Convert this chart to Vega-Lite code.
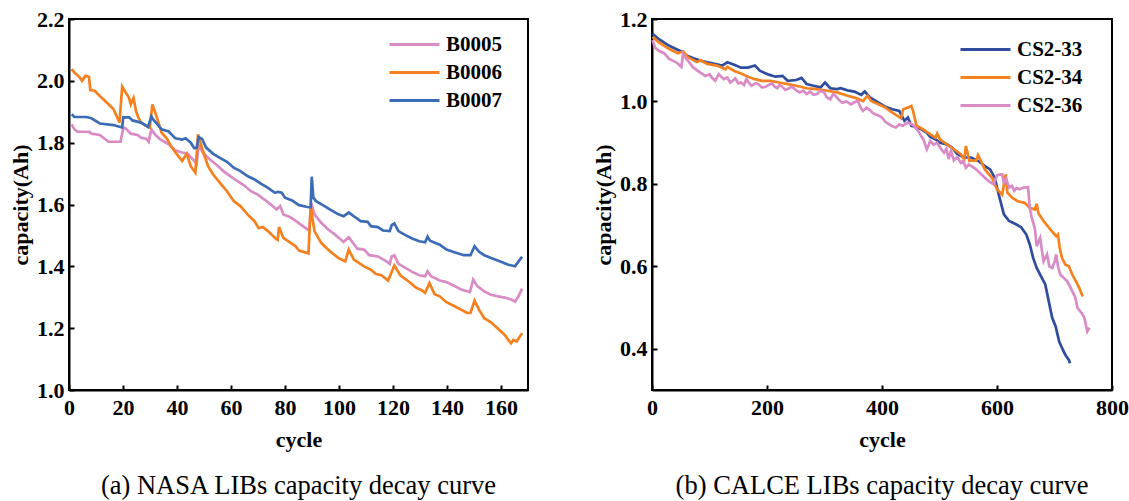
{
  "$schema": "https://vega.github.io/schema/vega-lite/v6.json",
  "background": "white",
  "padding": {"left": 8, "top": 7, "right": 0, "bottom": 0},
  "spacing": 62,
  "config": {
    "font": "Liberation Serif",
    "view": {"stroke": "black", "strokeWidth": 2},
    "axis": {"domainColor": "black", "domainWidth": 2, "tickColor": "black", "tickWidth": 2, "tickSize": -5, "labelFont": "Liberation Serif", "labelFontWeight": "bold", "labelFontSize": 22, "labelColor": "black", "labelPadding": 10, "titleFont": "Liberation Serif", "titleFontWeight": "bold", "titleFontSize": 22, "titleColor": "black", "grid": false, "labelFlush": false, "labelOverlap": false},
    "axisX": {"labelPadding": 12, "titlePadding": 11},
    "axisY": {"titlePadding": 4.5},
    "legend": {"orient": "none", "title": null, "symbolType": "M-4,0H4", "symbolSize": 156.25, "symbolStrokeWidth": 3, "labelFont": "Liberation Serif", "labelFontSize": 21, "labelFontWeight": "bold", "labelColor": "black", "rowPadding": 6, "labelOffset": 21, "padding": 0},
    "title": {"font": "Liberation Serif", "fontSize": 26.5, "fontWeight": "normal", "color": "black", "orient": "bottom", "anchor": "middle", "offset": 23}
  },
  "resolve": {"scale": {"color": "independent"}},
  "hconcat": [
    {
      "width": 459,
      "height": 371,
      "title": {"text": "(a) NASA LIBs capacity decay curve"},
      "data": {"values": [
        {"battery":"B0005","cycle":1,"capacity":1.859},{"battery":"B0005","cycle":2,"capacity":1.843},{"battery":"B0005","cycle":3.2,"capacity":1.836},{"battery":"B0005","cycle":7.6,"capacity":1.835},{"battery":"B0005","cycle":8.3,"capacity":1.829},{"battery":"B0005","cycle":11.4,"capacity":1.825},{"battery":"B0005","cycle":12.7,"capacity":1.816},{"battery":"B0005","cycle":14.6,"capacity":1.803},{"battery":"B0005","cycle":19.1,"capacity":1.803},{"battery":"B0005","cycle":20.1,"capacity":1.849},{"battery":"B0005","cycle":21,"capacity":1.846},{"battery":"B0005","cycle":22.9,"capacity":1.829},{"battery":"B0005","cycle":25.4,"capacity":1.825},{"battery":"B0005","cycle":26.7,"capacity":1.816},{"battery":"B0005","cycle":28.6,"capacity":1.813},{"battery":"B0005","cycle":29.5,"capacity":1.803},{"battery":"B0005","cycle":30.5,"capacity":1.843},{"battery":"B0005","cycle":31.8,"capacity":1.827},{"battery":"B0005","cycle":33.7,"capacity":1.811},{"battery":"B0005","cycle":36.9,"capacity":1.795},{"battery":"B0005","cycle":39.4,"capacity":1.775},{"battery":"B0005","cycle":41.9,"capacity":1.768},{"battery":"B0005","cycle":43.9,"capacity":1.764},{"battery":"B0005","cycle":46.4,"capacity":1.741},{"battery":"B0005","cycle":47.3,"capacity":1.732},{"battery":"B0005","cycle":48,"capacity":1.792},{"battery":"B0005","cycle":49.6,"capacity":1.768},{"battery":"B0005","cycle":52.1,"capacity":1.746},{"battery":"B0005","cycle":54.7,"capacity":1.728},{"battery":"B0005","cycle":57.2,"capacity":1.708},{"battery":"B0005","cycle":59.7,"capacity":1.692},{"battery":"B0005","cycle":62.3,"capacity":1.676},{"battery":"B0005","cycle":64.8,"capacity":1.662},{"battery":"B0005","cycle":67.4,"capacity":1.643},{"battery":"B0005","cycle":69.9,"capacity":1.632},{"battery":"B0005","cycle":72.4,"capacity":1.616},{"battery":"B0005","cycle":75,"capacity":1.598},{"battery":"B0005","cycle":76.9,"capacity":1.584},{"battery":"B0005","cycle":78.2,"capacity":1.595},{"battery":"B0005","cycle":79.4,"capacity":1.568},{"battery":"B0005","cycle":82,"capacity":1.559},{"battery":"B0005","cycle":84.5,"capacity":1.544},{"battery":"B0005","cycle":87.1,"capacity":1.527},{"battery":"B0005","cycle":89,"capacity":1.516},{"battery":"B0005","cycle":89.7,"capacity":1.605},{"battery":"B0005","cycle":90.9,"capacity":1.568},{"battery":"B0005","cycle":93.4,"capacity":1.541},{"battery":"B0005","cycle":96,"capacity":1.519},{"battery":"B0005","cycle":98.5,"capacity":1.503},{"battery":"B0005","cycle":101.7,"capacity":1.479},{"battery":"B0005","cycle":103.6,"capacity":1.494},{"battery":"B0005","cycle":106.8,"capacity":1.457},{"battery":"B0005","cycle":109.3,"capacity":1.454},{"battery":"B0005","cycle":111.2,"capacity":1.436},{"battery":"B0005","cycle":114.4,"capacity":1.432},{"battery":"B0005","cycle":117.6,"capacity":1.416},{"battery":"B0005","cycle":118.8,"capacity":1.408},{"battery":"B0005","cycle":119.5,"capacity":1.432},{"battery":"B0005","cycle":120.5,"capacity":1.436},{"battery":"B0005","cycle":122,"capacity":1.408},{"battery":"B0005","cycle":124.6,"capacity":1.395},{"battery":"B0005","cycle":127.1,"capacity":1.382},{"battery":"B0005","cycle":129.7,"capacity":1.371},{"battery":"B0005","cycle":131.9,"capacity":1.368},{"battery":"B0005","cycle":132.8,"capacity":1.384},{"battery":"B0005","cycle":134.1,"capacity":1.368},{"battery":"B0005","cycle":137.3,"capacity":1.354},{"battery":"B0005","cycle":139.8,"capacity":1.349},{"battery":"B0005","cycle":142.4,"capacity":1.338},{"battery":"B0005","cycle":145.5,"capacity":1.324},{"battery":"B0005","cycle":148.5,"capacity":1.317},{"battery":"B0005","cycle":149.7,"capacity":1.357},{"battery":"B0005","cycle":151.3,"capacity":1.335},{"battery":"B0005","cycle":153.8,"capacity":1.319},{"battery":"B0005","cycle":156.3,"capacity":1.308},{"battery":"B0005","cycle":158.9,"capacity":1.303},{"battery":"B0005","cycle":161.4,"capacity":1.299},{"battery":"B0005","cycle":164,"capacity":1.292},{"battery":"B0005","cycle":165.2,"capacity":1.286},{"battery":"B0005","cycle":166.5,"capacity":1.303},{"battery":"B0005","cycle":167.8,"capacity":1.328},
        {"battery":"B0006","cycle":1,"capacity":2.038},{"battery":"B0006","cycle":2,"capacity":2.027},{"battery":"B0006","cycle":3.8,"capacity":2.013},{"battery":"B0006","cycle":4.8,"capacity":2.0},{"battery":"B0006","cycle":6.1,"capacity":2.016},{"battery":"B0006","cycle":7.4,"capacity":2.013},{"battery":"B0006","cycle":7.9,"capacity":1.97},{"battery":"B0006","cycle":9.5,"capacity":1.968},{"battery":"B0006","cycle":11.4,"capacity":1.951},{"battery":"B0006","cycle":14,"capacity":1.93},{"battery":"B0006","cycle":16.5,"capacity":1.908},{"battery":"B0006","cycle":18.7,"capacity":1.865},{"battery":"B0006","cycle":19.7,"capacity":1.981},{"battery":"B0006","cycle":21,"capacity":1.962},{"battery":"B0006","cycle":22.2,"capacity":1.946},{"battery":"B0006","cycle":22.9,"capacity":1.924},{"battery":"B0006","cycle":23.9,"capacity":1.944},{"battery":"B0006","cycle":24.8,"capacity":1.903},{"battery":"B0006","cycle":25.7,"capacity":1.881},{"battery":"B0006","cycle":26.7,"capacity":1.865},{"battery":"B0006","cycle":29.2,"capacity":1.851},{"battery":"B0006","cycle":29.9,"capacity":1.849},{"battery":"B0006","cycle":30.9,"capacity":1.924},{"battery":"B0006","cycle":32.4,"capacity":1.886},{"battery":"B0006","cycle":34.3,"capacity":1.832},{"battery":"B0006","cycle":36.2,"capacity":1.814},{"battery":"B0006","cycle":38.1,"capacity":1.784},{"battery":"B0006","cycle":40,"capacity":1.762},{"battery":"B0006","cycle":41.9,"capacity":1.741},{"battery":"B0006","cycle":43.6,"capacity":1.764},{"battery":"B0006","cycle":45.1,"capacity":1.724},{"battery":"B0006","cycle":46.8,"capacity":1.703},{"battery":"B0006","cycle":47.8,"capacity":1.827},{"battery":"B0006","cycle":49.6,"capacity":1.773},{"battery":"B0006","cycle":51.5,"capacity":1.724},{"battery":"B0006","cycle":53.4,"capacity":1.697},{"battery":"B0006","cycle":55.9,"capacity":1.67},{"battery":"B0006","cycle":58.5,"capacity":1.643},{"battery":"B0006","cycle":61,"capacity":1.611},{"battery":"B0006","cycle":63.5,"capacity":1.595},{"battery":"B0006","cycle":66.1,"capacity":1.568},{"battery":"B0006","cycle":68.7,"capacity":1.546},{"battery":"B0006","cycle":70.2,"capacity":1.524},{"battery":"B0006","cycle":71.8,"capacity":1.527},{"battery":"B0006","cycle":73.7,"capacity":1.514},{"battery":"B0006","cycle":76.3,"capacity":1.492},{"battery":"B0006","cycle":77.3,"capacity":1.486},{"battery":"B0006","cycle":77.8,"capacity":1.527},{"battery":"B0006","cycle":79.4,"capacity":1.492},{"battery":"B0006","cycle":81.3,"capacity":1.481},{"battery":"B0006","cycle":83.9,"capacity":1.465},{"battery":"B0006","cycle":85.2,"capacity":1.451},{"battery":"B0006","cycle":88.7,"capacity":1.442},{"battery":"B0006","cycle":89.5,"capacity":1.595},{"battery":"B0006","cycle":90.9,"capacity":1.514},{"battery":"B0006","cycle":93.4,"capacity":1.476},{"battery":"B0006","cycle":96.6,"capacity":1.449},{"battery":"B0006","cycle":99.8,"capacity":1.427},{"battery":"B0006","cycle":102.3,"capacity":1.416},{"battery":"B0006","cycle":103.6,"capacity":1.454},{"battery":"B0006","cycle":105.5,"capacity":1.422},{"battery":"B0006","cycle":109.3,"capacity":1.4},{"battery":"B0006","cycle":111.8,"capacity":1.389},{"battery":"B0006","cycle":113.7,"capacity":1.375},{"battery":"B0006","cycle":115.7,"capacity":1.371},{"battery":"B0006","cycle":118.2,"capacity":1.354},{"battery":"B0006","cycle":120.5,"capacity":1.403},{"battery":"B0006","cycle":122.7,"capacity":1.371},{"battery":"B0006","cycle":125.8,"capacity":1.351},{"battery":"B0006","cycle":128.4,"capacity":1.332},{"battery":"B0006","cycle":130.9,"capacity":1.321},{"battery":"B0006","cycle":131.9,"capacity":1.314},{"battery":"B0006","cycle":133.5,"capacity":1.346},{"battery":"B0006","cycle":135.4,"capacity":1.31},{"battery":"B0006","cycle":137.3,"capacity":1.303},{"battery":"B0006","cycle":139.8,"capacity":1.284},{"battery":"B0006","cycle":143.7,"capacity":1.267},{"battery":"B0006","cycle":147.5,"capacity":1.249},{"battery":"B0006","cycle":148.7,"capacity":1.249},{"battery":"B0006","cycle":150.2,"capacity":1.289},{"battery":"B0006","cycle":151.9,"capacity":1.259},{"battery":"B0006","cycle":153.8,"capacity":1.232},{"battery":"B0006","cycle":156.3,"capacity":1.219},{"battery":"B0006","cycle":158.9,"capacity":1.198},{"battery":"B0006","cycle":161.4,"capacity":1.178},{"battery":"B0006","cycle":162.7,"capacity":1.162},{"battery":"B0006","cycle":163.7,"capacity":1.151},{"battery":"B0006","cycle":164.6,"capacity":1.162},{"battery":"B0006","cycle":165.8,"capacity":1.157},{"battery":"B0006","cycle":167.8,"capacity":1.184},
        {"battery":"B0007","cycle":1,"capacity":1.892},{"battery":"B0007","cycle":2,"capacity":1.883},{"battery":"B0007","cycle":6.4,"capacity":1.883},{"battery":"B0007","cycle":8.3,"capacity":1.879},{"battery":"B0007","cycle":11.4,"capacity":1.862},{"battery":"B0007","cycle":16.5,"capacity":1.857},{"battery":"B0007","cycle":19.7,"capacity":1.849},{"battery":"B0007","cycle":20.1,"capacity":1.882},{"battery":"B0007","cycle":22.3,"capacity":1.882},{"battery":"B0007","cycle":23.5,"capacity":1.872},{"battery":"B0007","cycle":26.7,"capacity":1.865},{"battery":"B0007","cycle":29.3,"capacity":1.851},{"battery":"B0007","cycle":30.5,"capacity":1.885},{"battery":"B0007","cycle":31.1,"capacity":1.876},{"battery":"B0007","cycle":34.3,"capacity":1.843},{"battery":"B0007","cycle":36.9,"capacity":1.836},{"battery":"B0007","cycle":39.4,"capacity":1.814},{"battery":"B0007","cycle":41.9,"capacity":1.81},{"battery":"B0007","cycle":43.2,"capacity":1.814},{"battery":"B0007","cycle":45.1,"capacity":1.8},{"battery":"B0007","cycle":46.4,"capacity":1.782},{"battery":"B0007","cycle":47.3,"capacity":1.784},{"battery":"B0007","cycle":48,"capacity":1.818},{"battery":"B0007","cycle":49.3,"capacity":1.812},{"battery":"B0007","cycle":50.8,"capacity":1.784},{"battery":"B0007","cycle":53.4,"capacity":1.764},{"battery":"B0007","cycle":55.9,"capacity":1.751},{"battery":"B0007","cycle":58.5,"capacity":1.738},{"battery":"B0007","cycle":61,"capacity":1.719},{"battery":"B0007","cycle":63.5,"capacity":1.708},{"battery":"B0007","cycle":66.1,"capacity":1.692},{"battery":"B0007","cycle":68.7,"capacity":1.681},{"battery":"B0007","cycle":71.2,"capacity":1.667},{"battery":"B0007","cycle":73.7,"capacity":1.654},{"battery":"B0007","cycle":76.3,"capacity":1.638},{"battery":"B0007","cycle":77.5,"capacity":1.641},{"battery":"B0007","cycle":78.8,"capacity":1.638},{"battery":"B0007","cycle":80,"capacity":1.622},{"battery":"B0007","cycle":82.6,"capacity":1.613},{"battery":"B0007","cycle":85.2,"capacity":1.598},{"battery":"B0007","cycle":88.3,"capacity":1.592},{"battery":"B0007","cycle":89.5,"capacity":1.591},{"battery":"B0007","cycle":89.9,"capacity":1.69},{"battery":"B0007","cycle":90.5,"capacity":1.622},{"battery":"B0007","cycle":91.5,"capacity":1.611},{"battery":"B0007","cycle":94,"capacity":1.598},{"battery":"B0007","cycle":96.6,"capacity":1.584},{"battery":"B0007","cycle":99.8,"capacity":1.568},{"battery":"B0007","cycle":101.7,"capacity":1.562},{"battery":"B0007","cycle":103.6,"capacity":1.574},{"battery":"B0007","cycle":105.5,"capacity":1.562},{"battery":"B0007","cycle":108,"capacity":1.546},{"battery":"B0007","cycle":110.6,"capacity":1.544},{"battery":"B0007","cycle":111.8,"capacity":1.53},{"battery":"B0007","cycle":114.4,"capacity":1.527},{"battery":"B0007","cycle":116.3,"capacity":1.516},{"battery":"B0007","cycle":118.8,"capacity":1.514},{"battery":"B0007","cycle":119.5,"capacity":1.533},{"battery":"B0007","cycle":120.5,"capacity":1.539},{"battery":"B0007","cycle":122,"capacity":1.514},{"battery":"B0007","cycle":124.6,"capacity":1.501},{"battery":"B0007","cycle":127.1,"capacity":1.49},{"battery":"B0007","cycle":129.7,"capacity":1.481},{"battery":"B0007","cycle":131.9,"capacity":1.478},{"battery":"B0007","cycle":132.8,"capacity":1.496},{"battery":"B0007","cycle":133.7,"capacity":1.483},{"battery":"B0007","cycle":137.3,"capacity":1.47},{"battery":"B0007","cycle":139.8,"capacity":1.454},{"battery":"B0007","cycle":143,"capacity":1.445},{"battery":"B0007","cycle":146.2,"capacity":1.436},{"battery":"B0007","cycle":148.7,"capacity":1.436},{"battery":"B0007","cycle":150.2,"capacity":1.465},{"battery":"B0007","cycle":151.9,"capacity":1.447},{"battery":"B0007","cycle":153.8,"capacity":1.436},{"battery":"B0007","cycle":156.3,"capacity":1.427},{"battery":"B0007","cycle":160.2,"capacity":1.414},{"battery":"B0007","cycle":162.7,"capacity":1.405},{"battery":"B0007","cycle":165.2,"capacity":1.4},{"battery":"B0007","cycle":166.5,"capacity":1.416},{"battery":"B0007","cycle":167.8,"capacity":1.431}
      ]},
      "mark": {"type": "line", "strokeWidth": 2.7},
      "encoding": {
        "x": {"field": "cycle", "type": "quantitative", "scale": {"domain": [0, 170], "nice": false}, "axis": {"values": [0, 20, 40, 60, 80, 100, 120, 140, 160], "title": "cycle"}},
        "y": {"field": "capacity", "type": "quantitative", "scale": {"domain": [1.0, 2.2], "nice": false, "zero": false}, "axis": {"values": [1.0, 1.2, 1.4, 1.6, 1.8, 2.0, 2.2], "format": ".1f", "title": "capacity(Ah)"}},
        "color": {"field": "battery", "type": "nominal", "scale": {"domain": ["B0005", "B0006", "B0007"], "range": ["#d88bc4", "#f5801f", "#3b6cb5"]}, "legend": {"legendX": 335, "legendY": 15}}
      }
    },
    {
      "width": 460,
      "height": 371,
      "title": {"text": "(b) CALCE LIBs capacity decay curve"},
      "data": {"values": [
        {"battery":"CS2-33","cycle":1,"capacity":1.164},{"battery":"CS2-33","cycle":12,"capacity":1.151},{"battery":"CS2-33","cycle":30,"capacity":1.135},{"battery":"CS2-33","cycle":48,"capacity":1.123},{"battery":"CS2-33","cycle":54,"capacity":1.121},{"battery":"CS2-33","cycle":57,"capacity":1.113},{"battery":"CS2-33","cycle":72,"capacity":1.105},{"battery":"CS2-33","cycle":84,"capacity":1.099},{"battery":"CS2-33","cycle":96,"capacity":1.095},{"battery":"CS2-33","cycle":107,"capacity":1.092},{"battery":"CS2-33","cycle":122,"capacity":1.087},{"battery":"CS2-33","cycle":131,"capacity":1.095},{"battery":"CS2-33","cycle":143,"capacity":1.089},{"battery":"CS2-33","cycle":155,"capacity":1.082},{"battery":"CS2-33","cycle":167,"capacity":1.082},{"battery":"CS2-33","cycle":179,"capacity":1.087},{"battery":"CS2-33","cycle":188,"capacity":1.074},{"battery":"CS2-33","cycle":203,"capacity":1.065},{"battery":"CS2-33","cycle":215,"capacity":1.06},{"battery":"CS2-33","cycle":227,"capacity":1.062},{"battery":"CS2-33","cycle":236,"capacity":1.05},{"battery":"CS2-33","cycle":251,"capacity":1.052},{"battery":"CS2-33","cycle":260,"capacity":1.057},{"battery":"CS2-33","cycle":269,"capacity":1.042},{"battery":"CS2-33","cycle":281,"capacity":1.038},{"battery":"CS2-33","cycle":293,"capacity":1.034},{"battery":"CS2-33","cycle":301,"capacity":1.046},{"battery":"CS2-33","cycle":310,"capacity":1.032},{"battery":"CS2-33","cycle":322,"capacity":1.03},{"battery":"CS2-33","cycle":328,"capacity":1.032},{"battery":"CS2-33","cycle":340,"capacity":1.027},{"battery":"CS2-33","cycle":352,"capacity":1.024},{"battery":"CS2-33","cycle":364,"capacity":1.016},{"battery":"CS2-33","cycle":370,"capacity":1.024},{"battery":"CS2-33","cycle":379,"capacity":1.01},{"battery":"CS2-33","cycle":394,"capacity":0.997},{"battery":"CS2-33","cycle":406,"capacity":0.987},{"battery":"CS2-33","cycle":418,"capacity":0.981},{"battery":"CS2-33","cycle":430,"capacity":0.977},{"battery":"CS2-33","cycle":439,"capacity":0.953},{"battery":"CS2-33","cycle":445,"capacity":0.961},{"battery":"CS2-33","cycle":451,"capacity":0.941},{"battery":"CS2-33","cycle":460,"capacity":0.938},{"battery":"CS2-33","cycle":469,"capacity":0.932},{"battery":"CS2-33","cycle":478,"capacity":0.924},{"battery":"CS2-33","cycle":484,"capacity":0.914},{"battery":"CS2-33","cycle":493,"capacity":0.908},{"battery":"CS2-33","cycle":501,"capacity":0.9},{"battery":"CS2-33","cycle":513,"capacity":0.896},{"battery":"CS2-33","cycle":522,"capacity":0.888},{"battery":"CS2-33","cycle":531,"capacity":0.872},{"battery":"CS2-33","cycle":543,"capacity":0.864},{"battery":"CS2-33","cycle":555,"capacity":0.864},{"battery":"CS2-33","cycle":567,"capacity":0.856},{"battery":"CS2-33","cycle":579,"capacity":0.843},{"battery":"CS2-33","cycle":588,"capacity":0.835},{"battery":"CS2-33","cycle":596,"capacity":0.815},{"battery":"CS2-33","cycle":600,"capacity":0.791},{"battery":"CS2-33","cycle":606,"capacity":0.758},{"battery":"CS2-33","cycle":612,"capacity":0.726},{"battery":"CS2-33","cycle":621,"capacity":0.71},{"battery":"CS2-33","cycle":633,"capacity":0.702},{"battery":"CS2-33","cycle":642,"capacity":0.695},{"battery":"CS2-33","cycle":651,"capacity":0.677},{"battery":"CS2-33","cycle":657,"capacity":0.653},{"battery":"CS2-33","cycle":663,"capacity":0.62},{"battery":"CS2-33","cycle":669,"capacity":0.596},{"battery":"CS2-33","cycle":678,"capacity":0.572},{"battery":"CS2-33","cycle":684,"capacity":0.556},{"battery":"CS2-33","cycle":690,"capacity":0.515},{"battery":"CS2-33","cycle":696,"capacity":0.475},{"battery":"CS2-33","cycle":702,"capacity":0.454},{"battery":"CS2-33","cycle":708,"capacity":0.418},{"battery":"CS2-33","cycle":713,"capacity":0.402},{"battery":"CS2-33","cycle":719,"capacity":0.385},{"battery":"CS2-33","cycle":725,"capacity":0.373},{"battery":"CS2-33","cycle":727,"capacity":0.365},
        {"battery":"CS2-34","cycle":1,"capacity":1.157},{"battery":"CS2-34","cycle":12,"capacity":1.143},{"battery":"CS2-34","cycle":30,"capacity":1.127},{"battery":"CS2-34","cycle":45,"capacity":1.117},{"battery":"CS2-34","cycle":54,"capacity":1.121},{"battery":"CS2-34","cycle":63,"capacity":1.107},{"battery":"CS2-34","cycle":78,"capacity":1.096},{"battery":"CS2-34","cycle":84,"capacity":1.1},{"battery":"CS2-34","cycle":96,"capacity":1.091},{"battery":"CS2-34","cycle":113,"capacity":1.087},{"battery":"CS2-34","cycle":128,"capacity":1.078},{"battery":"CS2-34","cycle":131,"capacity":1.084},{"battery":"CS2-34","cycle":143,"capacity":1.074},{"battery":"CS2-34","cycle":155,"capacity":1.068},{"battery":"CS2-34","cycle":167,"capacity":1.06},{"battery":"CS2-34","cycle":179,"capacity":1.054},{"battery":"CS2-34","cycle":191,"capacity":1.05},{"battery":"CS2-34","cycle":206,"capacity":1.05},{"battery":"CS2-34","cycle":221,"capacity":1.046},{"battery":"CS2-34","cycle":236,"capacity":1.042},{"battery":"CS2-34","cycle":251,"capacity":1.038},{"battery":"CS2-34","cycle":269,"capacity":1.032},{"battery":"CS2-34","cycle":287,"capacity":1.03},{"battery":"CS2-34","cycle":305,"capacity":1.026},{"battery":"CS2-34","cycle":322,"capacity":1.022},{"battery":"CS2-34","cycle":340,"capacity":1.014},{"battery":"CS2-34","cycle":355,"capacity":1.008},{"battery":"CS2-34","cycle":367,"capacity":1.001},{"battery":"CS2-34","cycle":375,"capacity":1.014},{"battery":"CS2-34","cycle":381,"capacity":1.001},{"battery":"CS2-34","cycle":394,"capacity":0.993},{"battery":"CS2-34","cycle":406,"capacity":0.985},{"battery":"CS2-34","cycle":418,"capacity":0.973},{"battery":"CS2-34","cycle":427,"capacity":0.965},{"battery":"CS2-34","cycle":433,"capacity":0.959},{"battery":"CS2-34","cycle":437,"capacity":0.981},{"battery":"CS2-34","cycle":445,"capacity":0.985},{"battery":"CS2-34","cycle":451,"capacity":0.989},{"battery":"CS2-34","cycle":454,"capacity":0.977},{"battery":"CS2-34","cycle":460,"capacity":0.941},{"battery":"CS2-34","cycle":472,"capacity":0.932},{"battery":"CS2-34","cycle":484,"capacity":0.92},{"battery":"CS2-34","cycle":493,"capacity":0.912},{"battery":"CS2-34","cycle":496,"capacity":0.922},{"battery":"CS2-34","cycle":501,"capacity":0.908},{"battery":"CS2-34","cycle":513,"capacity":0.896},{"battery":"CS2-34","cycle":525,"capacity":0.884},{"battery":"CS2-34","cycle":537,"capacity":0.872},{"battery":"CS2-34","cycle":543,"capacity":0.86},{"battery":"CS2-34","cycle":546,"capacity":0.892},{"battery":"CS2-34","cycle":552,"capacity":0.856},{"battery":"CS2-34","cycle":564,"capacity":0.857},{"battery":"CS2-34","cycle":567,"capacity":0.87},{"battery":"CS2-34","cycle":572,"capacity":0.856},{"battery":"CS2-34","cycle":579,"capacity":0.835},{"battery":"CS2-34","cycle":591,"capacity":0.815},{"battery":"CS2-34","cycle":600,"capacity":0.787},{"battery":"CS2-34","cycle":609,"capacity":0.774},{"battery":"CS2-34","cycle":615,"capacity":0.823},{"battery":"CS2-34","cycle":618,"capacity":0.779},{"battery":"CS2-34","cycle":627,"capacity":0.766},{"battery":"CS2-34","cycle":636,"capacity":0.758},{"battery":"CS2-34","cycle":648,"capacity":0.754},{"battery":"CS2-34","cycle":657,"capacity":0.742},{"battery":"CS2-34","cycle":666,"capacity":0.738},{"battery":"CS2-34","cycle":669,"capacity":0.752},{"battery":"CS2-34","cycle":672,"capacity":0.729},{"battery":"CS2-34","cycle":681,"capacity":0.71},{"battery":"CS2-34","cycle":693,"capacity":0.689},{"battery":"CS2-34","cycle":703,"capacity":0.673},{"battery":"CS2-34","cycle":706,"capacity":0.677},{"battery":"CS2-34","cycle":709,"capacity":0.645},{"battery":"CS2-34","cycle":713,"capacity":0.62},{"battery":"CS2-34","cycle":719,"capacity":0.604},{"battery":"CS2-34","cycle":725,"capacity":0.6},{"battery":"CS2-34","cycle":731,"capacity":0.58},{"battery":"CS2-34","cycle":737,"capacity":0.564},{"battery":"CS2-34","cycle":743,"capacity":0.548},{"battery":"CS2-34","cycle":749,"capacity":0.527},
        {"battery":"CS2-36","cycle":1,"capacity":1.149},{"battery":"CS2-36","cycle":5,"capacity":1.131},{"battery":"CS2-36","cycle":12,"capacity":1.123},{"battery":"CS2-36","cycle":21,"capacity":1.117},{"battery":"CS2-36","cycle":30,"capacity":1.103},{"battery":"CS2-36","cycle":42,"capacity":1.095},{"battery":"CS2-36","cycle":51,"capacity":1.084},{"battery":"CS2-36","cycle":54,"capacity":1.115},{"battery":"CS2-36","cycle":60,"capacity":1.103},{"battery":"CS2-36","cycle":72,"capacity":1.082},{"battery":"CS2-36","cycle":84,"capacity":1.07},{"battery":"CS2-36","cycle":93,"capacity":1.062},{"battery":"CS2-36","cycle":100,"capacity":1.066},{"battery":"CS2-36","cycle":104,"capacity":1.058},{"battery":"CS2-36","cycle":110,"capacity":1.05},{"battery":"CS2-36","cycle":116,"capacity":1.066},{"battery":"CS2-36","cycle":125,"capacity":1.054},{"battery":"CS2-36","cycle":131,"capacity":1.058},{"battery":"CS2-36","cycle":136,"capacity":1.046},{"battery":"CS2-36","cycle":140,"capacity":1.05},{"battery":"CS2-36","cycle":145,"capacity":1.056},{"battery":"CS2-36","cycle":150,"capacity":1.044},{"battery":"CS2-36","cycle":155,"capacity":1.046},{"battery":"CS2-36","cycle":160,"capacity":1.04},{"battery":"CS2-36","cycle":164,"capacity":1.054},{"battery":"CS2-36","cycle":168,"capacity":1.046},{"battery":"CS2-36","cycle":173,"capacity":1.038},{"battery":"CS2-36","cycle":180,"capacity":1.044},{"battery":"CS2-36","cycle":185,"capacity":1.042},{"battery":"CS2-36","cycle":191,"capacity":1.034},{"battery":"CS2-36","cycle":197,"capacity":1.035},{"battery":"CS2-36","cycle":203,"capacity":1.04},{"battery":"CS2-36","cycle":209,"capacity":1.044},{"battery":"CS2-36","cycle":213,"capacity":1.036},{"battery":"CS2-36","cycle":218,"capacity":1.032},{"battery":"CS2-36","cycle":222,"capacity":1.04},{"battery":"CS2-36","cycle":227,"capacity":1.035},{"battery":"CS2-36","cycle":232,"capacity":1.028},{"battery":"CS2-36","cycle":236,"capacity":1.03},{"battery":"CS2-36","cycle":243,"capacity":1.036},{"battery":"CS2-36","cycle":251,"capacity":1.027},{"battery":"CS2-36","cycle":257,"capacity":1.022},{"battery":"CS2-36","cycle":263,"capacity":1.026},{"battery":"CS2-36","cycle":269,"capacity":1.018},{"battery":"CS2-36","cycle":275,"capacity":1.024},{"battery":"CS2-36","cycle":281,"capacity":1.016},{"battery":"CS2-36","cycle":287,"capacity":1.018},{"battery":"CS2-36","cycle":293,"capacity":1.026},{"battery":"CS2-36","cycle":299,"capacity":1.022},{"battery":"CS2-36","cycle":304,"capacity":1.01},{"battery":"CS2-36","cycle":310,"capacity":1.005},{"battery":"CS2-36","cycle":315,"capacity":1.018},{"battery":"CS2-36","cycle":319,"capacity":1.014},{"battery":"CS2-36","cycle":325,"capacity":1.004},{"battery":"CS2-36","cycle":331,"capacity":0.997},{"battery":"CS2-36","cycle":338,"capacity":1.0},{"battery":"CS2-36","cycle":346,"capacity":0.993},{"battery":"CS2-36","cycle":352,"capacity":0.998},{"battery":"CS2-36","cycle":358,"capacity":1.001},{"battery":"CS2-36","cycle":363,"capacity":0.985},{"battery":"CS2-36","cycle":367,"capacity":0.977},{"battery":"CS2-36","cycle":373,"capacity":0.985},{"battery":"CS2-36","cycle":379,"capacity":0.979},{"battery":"CS2-36","cycle":384,"capacity":0.972},{"battery":"CS2-36","cycle":388,"capacity":0.969},{"battery":"CS2-36","cycle":394,"capacity":0.966},{"battery":"CS2-36","cycle":400,"capacity":0.961},{"battery":"CS2-36","cycle":406,"capacity":0.95},{"battery":"CS2-36","cycle":412,"capacity":0.945},{"battery":"CS2-36","cycle":418,"capacity":0.94},{"battery":"CS2-36","cycle":424,"capacity":0.937},{"battery":"CS2-36","cycle":430,"capacity":0.944},{"battery":"CS2-36","cycle":436,"capacity":0.941},{"battery":"CS2-36","cycle":445,"capacity":0.949},{"battery":"CS2-36","cycle":454,"capacity":0.943},{"battery":"CS2-36","cycle":463,"capacity":0.928},{"battery":"CS2-36","cycle":468,"capacity":0.916},{"battery":"CS2-36","cycle":472,"capacity":0.908},{"battery":"CS2-36","cycle":478,"capacity":0.884},{"battery":"CS2-36","cycle":484,"capacity":0.904},{"battery":"CS2-36","cycle":490,"capacity":0.895},{"battery":"CS2-36","cycle":496,"capacity":0.9},{"battery":"CS2-36","cycle":501,"capacity":0.888},{"battery":"CS2-36","cycle":508,"capacity":0.876},{"battery":"CS2-36","cycle":512,"capacity":0.885},{"battery":"CS2-36","cycle":516,"capacity":0.86},{"battery":"CS2-36","cycle":520,"capacity":0.88},{"battery":"CS2-36","cycle":525,"capacity":0.857},{"battery":"CS2-36","cycle":531,"capacity":0.865},{"battery":"CS2-36","cycle":537,"capacity":0.851},{"battery":"CS2-36","cycle":541,"capacity":0.856},{"battery":"CS2-36","cycle":546,"capacity":0.839},{"battery":"CS2-36","cycle":551,"capacity":0.847},{"battery":"CS2-36","cycle":557,"capacity":0.842},{"battery":"CS2-36","cycle":564,"capacity":0.835},{"battery":"CS2-36","cycle":569,"capacity":0.828},{"battery":"CS2-36","cycle":573,"capacity":0.823},{"battery":"CS2-36","cycle":579,"capacity":0.815},{"battery":"CS2-36","cycle":585,"capacity":0.807},{"battery":"CS2-36","cycle":594,"capacity":0.799},{"battery":"CS2-36","cycle":600,"capacity":0.821},{"battery":"CS2-36","cycle":609,"capacity":0.823},{"battery":"CS2-36","cycle":612,"capacity":0.803},{"battery":"CS2-36","cycle":616,"capacity":0.812},{"battery":"CS2-36","cycle":621,"capacity":0.791},{"battery":"CS2-36","cycle":626,"capacity":0.795},{"battery":"CS2-36","cycle":630,"capacity":0.783},{"battery":"CS2-36","cycle":634,"capacity":0.79},{"battery":"CS2-36","cycle":639,"capacity":0.787},{"battery":"CS2-36","cycle":646,"capacity":0.791},{"battery":"CS2-36","cycle":654,"capacity":0.792},{"battery":"CS2-36","cycle":657,"capacity":0.742},{"battery":"CS2-36","cycle":660,"capacity":0.72},{"battery":"CS2-36","cycle":663,"capacity":0.706},{"battery":"CS2-36","cycle":666,"capacity":0.69},{"battery":"CS2-36","cycle":669,"capacity":0.649},{"battery":"CS2-36","cycle":675,"capacity":0.669},{"battery":"CS2-36","cycle":678,"capacity":0.64},{"battery":"CS2-36","cycle":681,"capacity":0.612},{"battery":"CS2-36","cycle":687,"capacity":0.629},{"battery":"CS2-36","cycle":691,"capacity":0.6},{"battery":"CS2-36","cycle":696,"capacity":0.596},{"battery":"CS2-36","cycle":700,"capacity":0.61},{"battery":"CS2-36","cycle":703,"capacity":0.629},{"battery":"CS2-36","cycle":706,"capacity":0.6},{"battery":"CS2-36","cycle":710,"capacity":0.58},{"battery":"CS2-36","cycle":716,"capacity":0.572},{"battery":"CS2-36","cycle":722,"capacity":0.564},{"battery":"CS2-36","cycle":731,"capacity":0.539},{"battery":"CS2-36","cycle":736,"capacity":0.525},{"battery":"CS2-36","cycle":740,"capacity":0.499},{"battery":"CS2-36","cycle":747,"capacity":0.487},{"battery":"CS2-36","cycle":752,"capacity":0.475},{"battery":"CS2-36","cycle":757,"capacity":0.442},{"battery":"CS2-36","cycle":761,"capacity":0.451}
      ]},
      "mark": {"type": "line", "strokeWidth": 2.7},
      "encoding": {
        "x": {"field": "cycle", "type": "quantitative", "scale": {"domain": [0, 800], "nice": false}, "axis": {"values": [0, 200, 400, 600, 800], "title": "cycle"}},
        "y": {"field": "capacity", "type": "quantitative", "scale": {"domain": [0.3, 1.2], "nice": false, "zero": false}, "axis": {"values": [0.4, 0.6, 0.8, 1.0, 1.2], "format": ".1f", "title": "capacity(Ah)"}},
        "color": {"field": "battery", "type": "nominal", "scale": {"domain": ["CS2-33", "CS2-34", "CS2-36"], "range": ["#2f4c9f", "#f5821f", "#d98bc6"]}, "legend": {"legendX": 323, "legendY": 20}}
      }
    }
  ]
}
